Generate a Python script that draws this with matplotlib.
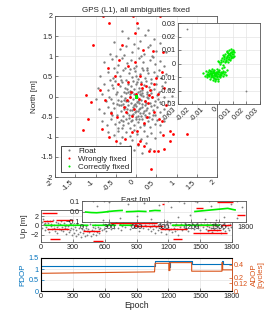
import numpy as np
import matplotlib
matplotlib.use('Agg')
import matplotlib.pyplot as plt
from matplotlib.lines import Line2D

plt.rcParams['font.family'] = ['Liberation Sans', 'DejaVu Sans']

# ---------------- data: horizontal scatter (East / North, m) ----------------
float_e = [-0.35, 0.05, 0.3, 0.22,
           -0.55, -0.2, 0.1, 0.45, -0.05, 0.6, 0.35,
           -0.65, -0.4, -0.25, -0.1, 0.05, 0.2, 0.3, 0.5, -0.5, 0.12, -0.3, 0.4, 0.75,
           -0.8, -0.6, -0.45, -0.35, -0.22, -0.12, 0.0, 0.08, 0.18, 0.28, 0.35, 0.48, 0.6, -0.55, -0.05, 0.15, 0.42, -0.28, 0.7,
           -0.9, -0.7, -0.58, -0.48, -0.4, -0.32, -0.25, -0.18, -0.1, -0.03, 0.04, 0.1, 0.17, 0.22, 0.3, 0.38, 0.45, 0.52, 0.62, 0.75, -0.15, 0.0, -0.36, 0.27, 0.58, -0.65,
           -0.95, -0.8, -0.7, -0.6, -0.52, -0.46, -0.4, -0.34, -0.3, -0.26, -0.2, -0.16, -0.12, -0.08, -0.04, 0.0, 0.04, 0.08, 0.12, 0.16, 0.2, 0.24, 0.28, 0.32, 0.38, 0.44, 0.5, 0.56, 0.64, 0.72, 0.82, -0.22, 0.1, -0.56, 0.36, -0.1, 0.02,
           -1.0, -0.85, -0.75, -0.66, -0.58, -0.5, -0.44, -0.38, -0.33, -0.28, -0.24, -0.2, -0.16, -0.12, -0.08, -0.05, -0.02, 0.02, 0.05, 0.09, 0.12, 0.15, 0.18, 0.22, 0.26, 0.3, 0.34, 0.4, 0.46, 0.52, 0.6, 0.68, 0.78, 0.9, -0.36, -0.14, 0.07, 0.25, -0.46, 0.38, 0.55, -0.62, 0.0, -0.25, 0.14,
           -0.92, -0.8, -0.7, -0.62, -0.54, -0.48, -0.42, -0.37, -0.32, -0.27, -0.23, -0.19, -0.15, -0.11, -0.07, -0.03, 0.01, 0.04, 0.08, 0.11, 0.15, 0.19, 0.23, 0.27, 0.31, 0.36, 0.41, 0.47, 0.53, 0.6, 0.68, 0.76, -0.3, -0.05, 0.0, 0.13, -0.17, 0.25, -0.6, 0.44,
           -0.85, -0.72, -0.62, -0.52, -0.44, -0.38, -0.31, -0.25, -0.2, -0.14, -0.09, -0.04, 0.0, 0.05, 0.1, 0.14, 0.19, 0.24, 0.29, 0.34, 0.4, 0.46, 0.52, 0.6, 0.7, -0.18, 0.08, -0.34,
           -0.7, -0.55, -0.45, -0.35, -0.25, -0.16, -0.06, 0.02, 0.12, 0.2, 0.28, 0.38, 0.48, 0.6, -0.1,
           -0.4, -0.15, 0.05, 0.25, 0.35, -0.05, 0.15,
           -0.21, 0.03, 0.17, -0.37, 0.31, -0.13, 0.09, -0.29, 0.21, -0.07, 0.13, -0.41, 0.43, -0.19, 0.06, -0.01, 0.26, -0.33, 0.19, -0.09]
float_n = [1.62, 1.7, 1.65, 1.52,
           1.35, 1.45, 1.38, 1.42, 1.3, 1.32, 1.28,
           1.05, 1.18, 1.25, 1.1, 1.2, 1.05, 1.22, 1.12, 1.0, 1.0, 1.02, 1.0, 1.1,
           0.85, 0.92, 0.78, 0.95, 0.82, 0.9, 0.76, 0.95, 0.85, 0.72, 0.9, 0.8, 0.88, 0.7, 0.72, 0.7, 0.97, 0.7, 0.75,
           0.5, 0.62, 0.45, 0.6, 0.52, 0.66, 0.42, 0.58, 0.48, 0.64, 0.44, 0.55, 0.67, 0.46, 0.58, 0.44, 0.62, 0.5, 0.45, 0.55, 0.68, 0.52, 0.41, 0.66, 0.66, 0.4,
           0.2, 0.32, 0.15, 0.28, 0.38, 0.12, 0.25, 0.35, 0.1, 0.22, 0.32, 0.14, 0.26, 0.38, 0.18, 0.3, 0.11, 0.22, 0.35, 0.16, 0.28, 0.38, 0.12, 0.24, 0.33, 0.18, 0.3, 0.12, 0.25, 0.35, 0.18, 0.18, 0.14, 0.2, 0.16, 0.12, 0.36,
           -0.05, 0.05, -0.12, 0.0, -0.15, 0.06, -0.08, 0.02, -0.18, -0.04, 0.08, -0.12, 0.0, -0.16, -0.06, 0.07, -0.18, -0.02, -0.12, 0.05, -0.08, -0.18, 0.02, -0.1, 0.07, -0.04, -0.15, 0.0, -0.1, 0.04, -0.14, -0.02, -0.1, 0.02, -0.1, 0.06, -0.15, -0.17, -0.19, 0.08, -0.06, -0.06, 0.05, -0.1, 0.09,
           -0.3, -0.42, -0.25, -0.38, -0.28, -0.46, -0.22, -0.35, -0.48, -0.26, -0.4, -0.22, -0.33, -0.45, -0.27, -0.38, -0.24, -0.48, -0.32, -0.42, -0.25, -0.36, -0.47, -0.28, -0.4, -0.24, -0.34, -0.45, -0.27, -0.38, -0.3, -0.44, -0.3, -0.21, -0.35, -0.49, -0.47, -0.33, -0.47, -0.22,
           -0.6, -0.72, -0.55, -0.68, -0.78, -0.58, -0.7, -0.55, -0.66, -0.78, -0.58, -0.7, -0.52, -0.64, -0.76, -0.56, -0.68, -0.52, -0.62, -0.75, -0.56, -0.68, -0.58, -0.72, -0.6, -0.53, -0.55, -0.78,
           -0.88, -0.95, -0.85, -1.0, -0.88, -0.97, -0.84, -0.94, -1.05, -0.86, -0.98, -0.9, -1.02, -0.88, -1.08,
           -1.15, -1.22, -1.2, -1.15, -1.3, -1.32, -1.4,
           -0.31, -0.14, -0.4, -0.2, -0.52, -0.62, -0.29, -0.09, -0.2, -0.43, 0.03, -0.63, -0.45, 0.1, -0.37, -0.56, -0.02, -0.6, -0.71, -0.34]

wrong_e = [-0.82, -0.08, 0.6, -0.66, 0.02, -0.02, -1.07, -0.34, 0.18, 0.42, 0.66, -0.42, -0.02, -0.2, -0.68,
           -0.53, 0.1, -1.23, -0.9, -0.45, -0.2, 0.25, 0.45, 0.65, 0.32, 0.0, -0.22, -1.1, -0.77, -1.32,
           -1.18, -0.62, -0.46, -0.09, 0.28, 0.45, 0.58, 0.03, -0.09, -0.25, -0.83, -0.67, -0.5, -0.27, 0.05,
           0.2, 0.32, 0.44, 0.54, 0.38, 0.68, 0.85, 0.92, 1.25, 0.85, 0.67, 0.1, 0.65, 0.2,
           -0.12, 0.08, 0.15, -0.3, 0.3, 0.5, 0.7, 0.75, 0.55, -0.05, 0.22, 0.4, -0.15, 0.12, 0.35]
wrong_n = [2.0, 2.0, 2.0, 1.82, 1.82, 1.57, 1.28, 1.28, 1.16, 1.12, 1.1, 0.91, 0.86, 0.75, 0.72,
           0.5, 0.5, 0.04, 0.16, 0.3, 0.36, 0.27, 0.3, 0.61, 0.04, 0.07, -0.09, -0.13, -0.09, -0.82,
           -0.56, -0.42, -0.52, -0.48, -0.52, -0.38, -0.55, -0.85, -0.87, -0.38, -0.8, -1.0, -1.11, -1.05, -1.17,
           -1.23, -1.35, -1.35, -1.35, -1.8, -1.3, -1.1, -0.94, -0.92, -0.85, -0.96, -1.1, -0.6, -0.66,
           0.12, -0.05, 0.2, -0.25, -0.15, 0.45, 0.2, -0.2, 0.05, -0.3, -0.1, 0.0, -0.02, 0.3, 0.15]

fixed_e = [-0.0115, -0.010, -0.0095, -0.009, -0.0085, -0.008, -0.0078, -0.0072, -0.007, -0.0068, -0.0065, -0.006, -0.0058, -0.0055,
           -0.0052, -0.005, -0.0048, -0.0045, -0.0043, -0.004, -0.0038, -0.0035, -0.0033, -0.003, -0.0028, -0.0025, -0.0022, -0.002,
           -0.0018, -0.0015, -0.0012, -0.001, -0.0008, -0.0005, -0.0002, 0.0, 0.0003, 0.0006, 0.001, 0.0013, 0.0017, 0.002, 0.0024,
           0.0028, 0.0032, 0.0036, 0.004, 0.0045, 0.005, 0.0055, -0.0062, -0.0047, -0.0032, -0.0026, -0.0016, -0.0042, -0.0057, -0.0036,
           -0.0008, -0.0074, 0.0008, -0.002, -0.0053, -0.0012, -0.003, 0.0015, -0.0066, -0.0088, 0.003, -0.004,
           0.0, 0.0008, 0.0012, 0.0018, 0.0022, 0.0026, 0.003, 0.0034, 0.0038, 0.0042, 0.0046, 0.005, 0.0054, 0.0058, 0.006, 0.0063,
           0.0066, 0.007, 0.0073, 0.0076, 0.0079, 0.0082, 0.0085, 0.0088, 0.0091, 0.0094, 0.0097, 0.01, 0.0103, 0.0106, 0.011, 0.0113,
           0.0068, 0.0055, 0.0078, 0.0087, 0.0048, 0.0062, 0.0095, 0.0072, 0.004, 0.0028, -0.001, 0.0105, 0.0065]
fixed_n = [-0.007, -0.009, -0.0055, -0.0075, -0.010, -0.006, -0.0085, -0.0045, -0.0095, -0.0068, -0.0115, -0.0058, -0.008, -0.0102,
           -0.0038, -0.007, -0.009, -0.012, -0.0062, -0.0082, -0.0105, -0.005, -0.0073, -0.0093, -0.0128, -0.006, -0.0085, -0.0112,
           -0.0042, -0.007, -0.0098, -0.0055, -0.0078, -0.0118, -0.0065, -0.009, -0.0048, -0.0075, -0.0102, -0.006, -0.0085, -0.0035, -0.007,
           -0.0095, -0.0052, -0.0078, -0.0028, -0.0062, -0.0088, -0.0045, -0.0088, -0.0052, -0.0115, -0.0078, -0.0092, -0.0098, -0.0072, -0.0063,
           -0.0132, -0.0078, -0.0088, -0.0068, -0.0085, -0.0062, -0.0082, -0.0072, -0.0052, -0.0082, -0.0065, -0.0072,
           0.0012, -0.0005, 0.0025, 0.0008, 0.004, -0.0008, 0.0018, 0.0055, 0.003, 0.0008, 0.0068, 0.0042, 0.002, 0.0085, 0.0055, 0.0032,
           0.0012, 0.0072, 0.0048, 0.0098, 0.0028, 0.0062, 0.0085, 0.0042, 0.0108, 0.0068, 0.005, 0.009, 0.0072, 0.0102, 0.0058, 0.0085,
           0.0062, 0.0048, 0.0078, 0.0058, 0.0025, 0.0095, 0.0088, 0.0035, 0.0048, 0.0062, 0.002, 0.0045, 0.0078]

# ---------------- data: Up component over time ----------------
float_up_t = [5, 12, 20, 27, 33, 40, 47, 55, 62, 70, 76, 83, 90, 97, 104, 111, 118, 125, 132, 140, 147, 155, 162, 170, 177, 185,
              192, 200, 208, 215, 223, 231, 238, 246, 254, 262, 270, 278, 286, 294,
              302, 310, 318, 326, 334, 342, 350, 358, 366, 374, 382, 390, 398, 406, 414, 422, 430, 438, 446, 454, 462, 470, 478,
              486, 494, 502, 510, 518, 526, 534, 542, 550, 560, 572, 585, 598, 612, 626, 640, 655, 670, 685,
              705, 722, 740, 758, 776, 795, 815, 835, 856, 878, 900, 920, 940, 958, 975, 990,
              1005, 1015, 1025, 1035, 1045, 1055, 1065, 1075, 1085, 1095, 1105, 1115, 1125, 1135, 1145, 1155, 1165, 1175, 1185,
              1195, 1205, 1215, 1225, 1235, 1245, 1255, 1265, 1275, 1285, 1295,
              1308, 1320, 1332, 1345, 1358, 1370, 1383, 1396, 1410, 1424, 1438, 1452, 1466, 1480, 1494, 1508, 1522, 1536,
              1552, 1562, 1572, 1582, 1592, 1602, 1612, 1622, 1632, 1642, 1652, 1662, 1672, 1682, 1692, 1702, 1712, 1722, 1732,
              1742, 1752, 1762, 1772, 1782, 1792,
              160, 230, 300, 420, 510, 600, 680, 760, 840, 930, 980, 1050, 1120, 1190, 1260, 1350, 1420, 1470, 1560, 1640, 1700, 1760]
float_up_v = [0.8, -0.6, 1.3, 0.2, -1.1, 0.6, -0.3, 1.0, -0.9, 0.4, -1.4, 0.9, -0.2, 0.3, -0.8, 1.2, -0.5, 0.1, -1.2, 0.7, -0.4, -1.6, 0.5, -0.7, 0.2, -1.0,
              0.9, -0.3, -1.3, 0.4, -0.6, -1.8, 0.1, -0.9, -0.2, -1.5, 0.3, -1.1, -0.5, -2.0,
              -0.8, -1.6, -0.3, -2.2, -1.0, 0.2, -1.9, -0.6, -1.4, -2.6, -0.9, -0.2, -1.7, -1.1, -2.3, -0.5, -1.3, -2.0, -0.7, -1.5, 0.3, -2.4, -1.0,
              -0.4, -1.8, -1.2, -0.6, -2.1, -1.4, -0.3, -0.9, -1.6, -0.5, -1.1, 0.2, -0.7, -1.3, -0.2, 0.6, -0.9, 0.3, -0.5,
              0.8, -0.6, 0.2, -1.0, 0.5, -0.3, 1.1, -0.8, 0.3, -0.4, 0.7, -1.2, 0.1, -0.6, 0.9, -0.2,
              -0.9, 0.4, -0.3, -1.3, 0.6, -0.7, 0.1, -1.6, -0.4, 0.8, -1.0, -0.2, 0.5, -1.4, -0.6, 0.2, -0.9, -1.8, 0.4,
              -0.3, -1.1, 0.6, -0.7, -1.5, 0.1, -0.5, -1.2, 0.3, -0.8, -2.0,
              -0.4, 0.2, -1.0, -0.3, 0.5, -0.7, -1.3, 0.1, -0.5, 0.4, -0.9, -0.2, 0.6, -0.6, -1.1, 0.2, -0.4, 0.7,
              -0.8, 0.3, -1.2, -0.3, 0.8, -0.6, -1.5, 0.2, -0.9, 0.5, -0.2, -1.1, 0.7, -0.5, -1.7, 0.1, -0.8, 0.4, -1.3,
              -0.2, 0.9, -0.6, -1.0, 0.3, -0.4,
              0.05, -0.08, 0.09, -0.06, 0.07, -0.04, 0.08, -0.07, 0.06, -0.09, 0.04, -0.05, 0.08, -0.03, 0.09, -0.07, 0.05, -0.08, -0.05, 0.07, -0.06, 0.04]

wrong_up_start = [10, 20, 60, 140, 85, 400, 490, 650, 880, 1120, 1240, 1435, 1470, 1560, 880, 1250, 1480, 1700]
wrong_up_end = [150, 115, 260, 300, 180, 555, 585, 1090, 1150, 1375, 1330, 1750, 1780, 1700, 900, 1330, 1660, 1790]
wrong_up_level = [2.6, 0.9, -0.7, 1.1, -3.0, -1.2, -3.3, 0.4, -0.2, -0.9, -3.0, -1.7, 0.9, -1.1, 0.07, 0.03, 0.09, -0.03]

fixed_up_t = [40, 100, 160, 220, 280, np.nan, 290, 350, 400, 440, np.nan, 490, 560, 620, 700, np.nan,
              745, 800, 855, np.nan, 1240, 1300, 1360, 1420, 1480, 1540, 1600, 1650, 1680]
fixed_up_v = [-0.005, -0.01, -0.012, -0.008, -0.002, np.nan, 0.0, 0.005, 0.008, 0.01, np.nan, -0.002, 0.0, 0.003, 0.0, np.nan,
              0.005, 0.01, 0.008, np.nan, 0.0, 0.005, 0.01, 0.015, 0.02, 0.025, 0.03, 0.02, 0.015]

# ---------------- data: DOP ----------------
pdop_t = [0, 1070, 1070, 1205, 1205, 1215, 1215, 1420, 1420, 1705, 1705, 1712, 1712, 1800]
pdop_v = [1.15, 1.15, 1.36, 1.36, 1.1, 1.1, 1.36, 1.36, 1.23, 1.23, 1.36, 1.36, 1.23, 1.23]
adop_t = [0, 1070, 1075, 1205, 1205, 1215, 1215, 1420, 1420, 1705, 1705, 1712, 1712, 1800]
adop_v = [0.268, 0.29, 0.42, 0.42, 0.31, 0.31, 0.43, 0.43, 0.30, 0.30, 0.43, 0.43, 0.32, 0.32]

main_ticks = [-2, -1.5, -1, -0.5, 0, 0.5, 1, 1.5, 2]
main_ticklabels = ['-2', '-1.5', '-1', '-0.5', '0', '0.5', '1', '1.5', '2']
inset_ticks = [-0.03, -0.02, -0.01, 0, 0.01, 0.02, 0.03]
inset_ticklabels = ['-0.03', '-0.02', '-0.01', '0', '0.01', '0.02', '0.03']
epoch_ticks = [0, 300, 600, 900, 1200, 1500, 1800]
up_ticks = [-2, 0, 2]
upin_ticks = [-0.1, 0, 0.1]
pdop_ticks = [0, 0.5, 1, 1.5]
pdop_ticklabels = ['0', '0.5', '1', '1.5']
adop_ticks = [0, 0.12, 0.2, 0.4]

# ---------------- figure ----------------
W, H = 274, 324
fig = plt.figure(figsize=(W / 100, H / 100), dpi=100)


def rect(x0, y0, x1, y1):
    return [x0 / W, 1 - y1 / H, (x1 - x0) / W, (y1 - y0) / H]


AX = '#555555'
TXT = '#262626'
GRID = '#e4e4e4'
GREY = '#7f7f7f'
RED = '#ff0000'
GREEN = '#00ee00'
BLUE = '#0072bd'
ORANGE = '#d95319'
FS = 5.2


def style(ax):
    for s in ax.spines.values():
        s.set_color(AX)
        s.set_linewidth(0.6)
    ax.tick_params(direction='in', length=2, width=0.5, colors=AX, labelcolor=TXT,
                   labelsize=FS, pad=1.5)
    ax.grid(True, color=GRID, lw=0.5)
    ax.set_axisbelow(True)


def rotate(ax):
    for lbl in ax.get_xticklabels():
        lbl.set_rotation(45)
        lbl.set_ha('right')
        lbl.set_va('top')


# main horizontal scatter
ax = fig.add_axes(rect(55, 16, 217, 177))
style(ax)
ax.plot(float_e, float_n, 'o', color=GREY, ms=1.7, mew=0)
ax.plot(wrong_e, wrong_n, 'o', color=RED, ms=2.0, mew=0)
ax.plot(fixed_e, fixed_n, 'o', color=GREEN, ms=2.0, mew=0)
ax.set_xlim(-2, 2)
ax.set_ylim(-2, 2)
ax.set_xticks(main_ticks)
ax.set_xticklabels(main_ticklabels)
ax.set_yticks(main_ticks)
ax.set_yticklabels(main_ticklabels)
rotate(ax)
ax.set_title('GPS (L1), all ambiguities fixed', fontsize=5.8, color=TXT, pad=3)
ax.set_xlabel('East [m]', fontsize=5.8, color=TXT, labelpad=3)
ax.set_ylabel('North [m]', fontsize=5.8, color=TXT, labelpad=2)
handles = [Line2D([], [], ls='', marker='o', ms=1.5, mew=0, color=GREY),
           Line2D([], [], ls='', marker='o', ms=1.5, mew=0, color=RED),
           Line2D([], [], ls='', marker='o', ms=1.5, mew=0, color=GREEN)]
leg = ax.legend(handles, ['Float', 'Wrongly fixed', 'Correctly fixed'], loc='lower left',
                bbox_to_anchor=(0.035, 0.028), borderaxespad=0, fontsize=5.8, fancybox=False,
                framealpha=1, edgecolor=TXT, handlelength=1.6, handletextpad=0.4,
                labelspacing=0.05, borderpad=0.2)
leg.get_frame().set_linewidth(0.6)
for t in leg.get_texts():
    t.set_color(TXT)

# inset of horizontal scatter
axi = fig.add_axes(rect(178, 23, 260, 104))
style(axi)
axi.plot(float_e, float_n, 'o', color=GREY, ms=1.3, mew=0)
axi.plot([-0.0232], [0.0256], 'o', color=GREY, ms=1.3, mew=0)
axi.plot(wrong_e, wrong_n, 'o', color=RED, ms=1.9, mew=0)
axi.plot(fixed_e, fixed_n, 'o', color=GREEN, ms=1.7, mew=0)
axi.set_xlim(-0.03, 0.03)
axi.set_ylim(-0.03, 0.03)
axi.set_xticks(inset_ticks)
axi.set_xticklabels(inset_ticklabels)
axi.set_yticks(inset_ticks)
axi.set_yticklabels(inset_ticklabels)
rotate(axi)

# Up over time
axu = fig.add_axes(rect(41, 210, 232, 242))
style(axu)
axu.plot(float_up_t, float_up_v, 'o', color=GREY, ms=1.3, mew=0)
axu.hlines(wrong_up_level, wrong_up_start, wrong_up_end, color=RED, lw=1.0)
axu.plot(fixed_up_t, fixed_up_v, '-', color=GREEN, lw=1.2)
axu.set_xlim(0, 1800)
axu.set_ylim(-3.6, 3.3)
axu.set_xticks(epoch_ticks)
axu.set_yticks(up_ticks)
axu.set_ylabel('Up [m]', fontsize=5.8, color=TXT, labelpad=2)

axui = fig.add_axes(rect(82, 201, 246, 222))
style(axui)
axui.plot(float_up_t, float_up_v, 'o', color=GREY, ms=1.3, mew=0)
axui.hlines(wrong_up_level, wrong_up_start, wrong_up_end, color=RED, lw=1.0)
axui.plot(fixed_up_t, fixed_up_v, '-', color=GREEN, lw=1.2)
axui.set_xlim(0, 1800)
axui.set_ylim(-0.1, 0.1)
axui.set_xticks(epoch_ticks)
axui.set_yticks(upin_ticks)

# DOP
axp = fig.add_axes(rect(41, 258, 232, 291))
style(axp)
axp.plot(pdop_t, pdop_v, '-', color=BLUE, lw=0.8)
axp.set_xlim(0, 1800)
axp.set_ylim(0, 1.5)
axp.set_xticks(epoch_ticks)
axp.set_yticks(pdop_ticks)
axp.set_yticklabels(pdop_ticklabels)
axp.tick_params(axis='y', labelcolor=BLUE, colors=BLUE)
axp.spines['left'].set_color(BLUE)
axp.set_ylabel('PDOP', fontsize=5.8, color=BLUE, labelpad=2)
axp.set_xlabel('Epoch', fontsize=6.2, color=TXT, labelpad=1)

axa = axp.twinx()
axa.plot(adop_t, adop_v, '-', color=ORANGE, lw=0.8)
axa.set_ylim(0, 0.5)
axa.set_yticks(adop_ticks)
axa.set_yticklabels(['0', '0.12', '0.2', '0.4'])
axa.tick_params(axis='y', direction='in', length=2, width=0.5, colors=ORANGE,
                labelcolor=ORANGE, labelsize=FS, pad=1.5)
axa.spines['right'].set_color(ORANGE)
axa.spines['right'].set_linewidth(0.6)
axa.set_ylabel('ADOP\n[cycles]', fontsize=5.8, color=ORANGE, labelpad=2, linespacing=0.95)

fig.savefig('out.png', dpi=100)
